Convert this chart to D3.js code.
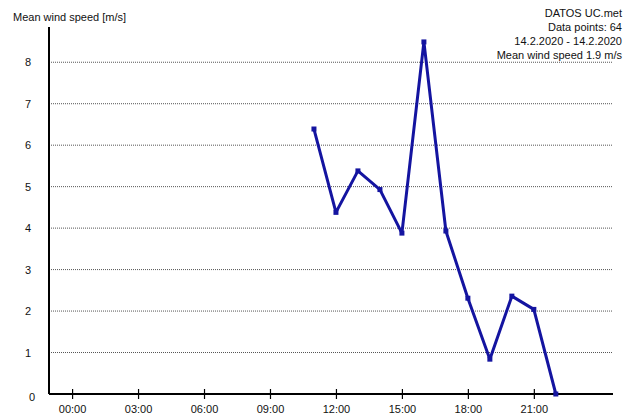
<!DOCTYPE html>
<html>
<head>
<meta charset="utf-8">
<script src="https://cdn.jsdelivr.net/npm/d3@7"></script>
<style>
  body { margin: 0; background: #fff; }
  svg text { font-family: "Liberation Sans", Arial, sans-serif; font-size: 11px; fill: #111; }
</style>
</head>
<body>
<svg id="chart" width="631" height="417"></svg>
<script>
// hourly means, hour of day
const hours = [11, 12, 13, 14, 15, 16, 17, 18, 19, 20, 21, 22];
const windSpeed = [6.39, 4.38, 5.38, 4.93, 3.88, 8.49, 3.93, 2.31, 0.84, 2.36, 2.04, 0];
const yTicks = [0, 1, 2, 3, 4, 5, 6, 7, 8];
const xTicks = [0, 3, 6, 9, 12, 15, 18, 21];
const infoLines = ["DATOS UC.met", "Data points: 64", "14.2.2020 - 14.2.2020", "Mean wind speed 1.9 m/s"];

var margin = { top: 27, right: 18, bottom: 23, left: 49 };
const svg = d3.select("#chart");
var width = 631 - margin.left - margin.right;
var height = 417 - margin.top - margin.bottom;

const g = svg.append("g")
  .attr("transform", `translate(${margin.left},${margin.top})`);

const x = d3.scaleLinear()
  .domain([-1.05, 24.6])
  .range([0, width]);

const y = d3.scaleLinear()
  .domain([0, 8.85])
  .range([height, 0]);

// dotted gridlines
g.selectAll(".grid")
  .data(yTicks.filter((d) => d > 0))
  .enter()
  .append("line")
  .attr("x1", 0)
  .attr("x2", width)
  .attr("y1", (d) => y(d))
  .attr("y2", (d) => y(d))
  .style("stroke", "#555")
  .style("stroke-width", 1)
  .style("stroke-dasharray", "1,1");

// y labels
g.selectAll(".ylab")
  .data(yTicks)
  .enter()
  .append("text")
  .attr("x", (d) => d === 0 ? -17 : -21)
  .attr("y", (d) => y(d) + (d === 0 ? 3 : 0))
  .attr("text-anchor", "middle")
  .attr("dominant-baseline", "central")
  .text((d) => d);

// x axis
g.append("g")
  .attr("transform", `translate(0,${height})`)
  .call(d3.axisBottom(x)
    .tickValues(xTicks)
    .tickSize(5)
    .tickPadding(6)
    .tickFormat((d) => String(d).padStart(2, "0") + ":00"))
  .call((a) => a.select(".domain").attr("d", `M0,0H${width}`).style("stroke-width", 2))
  .call((a) => a.selectAll(".tick line").attr("y1", -5).attr("y2", 5).style("stroke-width", 1.2))
  .call((a) => a.selectAll(".tick text").style("font-size", "11px").style("font-family", "Liberation Sans, Arial, sans-serif").attr("fill", "#111"));

// y axis line
g.append("line")
  .attr("x1", 0)
  .attr("x2", 0)
  .attr("y1", 0)
  .attr("y2", height)
  .style("stroke", "#000")
  .style("stroke-width", 2);

const line = d3.line()
  .x((d, i) => x(hours[i]))
  .y((d) => y(d));

g.append("path")
  .attr("d", line(windSpeed))
  .style("fill", "none")
  .style("stroke", "#1414a0")
  .style("stroke-width", 3)
  .style("stroke-linejoin", "round");

g.selectAll(".pt")
  .data(windSpeed)
  .enter()
  .append("rect")
  .attr("x", (d, i) => x(hours[i]) - 2.5)
  .attr("y", (d) => y(d) - 2.5)
  .attr("width", 5)
  .attr("height", 5)
  .style("fill", "#1414a0");

// title
svg.append("text")
  .attr("x", 13)
  .attr("y", 21)
  .text("Mean wind speed [m/s]");

svg.selectAll(".info")
  .data(infoLines)
  .enter()
  .append("text")
  .attr("x", 622)
  .attr("y", (d, i) => 17 + i * 14)
  .attr("text-anchor", "end")
  .text((d) => d);
</script>
</body>
</html>
